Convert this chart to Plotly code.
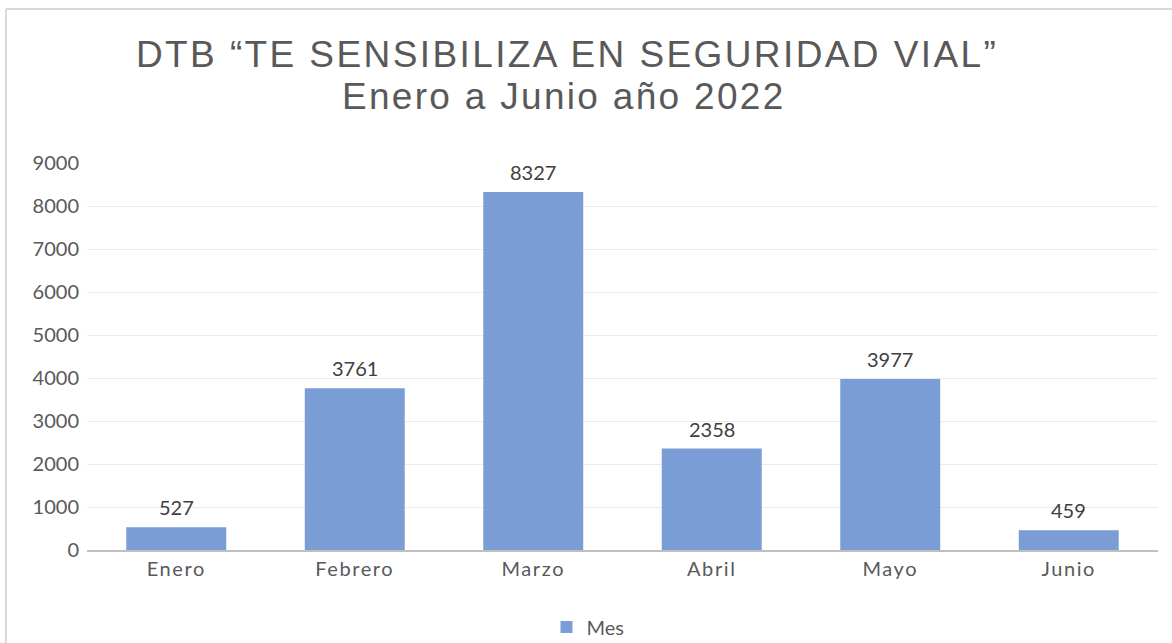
import plotly.graph_objects as go

months = ["Enero", "Febrero", "Marzo", "Abril", "Mayo", "Junio"]
values = [527, 3761, 8327, 2358, 3977, 459]
series_name = "Mes"
y_ticks = [0, 1000, 2000, 3000, 4000, 5000, 6000, 7000, 8000, 9000]
title_line1 = "DTB “TE SENSIBILIZA EN SEGURIDAD VIAL”"
title_line2 = "Enero a Junio año 2022"

L, R, T, B = 87, 14, 163, 93
W, H = 1172, 643
pw = W - L - R
ph = H - T - B

TXT = "#595959"
BAR = "#7A9DD6"


def spaced(s, px):
    return f'<span style="letter-spacing:{px}px">{s}</span>'


fig = go.Figure()
fig.add_trace(go.Bar(
    x=months, y=values, name=series_name,
    marker=dict(color=BAR, line=dict(width=0)),
    showlegend=True, hoverinfo="x+y",
))

# data labels
for m, v in zip(months, values):
    fig.add_annotation(x=m, y=v, text=str(v), showarrow=False, xanchor="center", yanchor="bottom",
                       yshift=6, font=dict(family="Lato", size=20, color="#404040"))

# title lines
fig.add_annotation(xref="paper", yref="paper", x=(567 - L) / pw, y=(H - B - 54) / ph,
                   text=spaced(title_line1, 2.4), showarrow=False, xanchor="center", yanchor="middle",
                   font=dict(family="Liberation Sans", size=37, color=TXT))
fig.add_annotation(xref="paper", yref="paper", x=(564 - L) / pw, y=(H - B - 97) / ph,
                   text=spaced(title_line2, 2.3), showarrow=False, xanchor="center", yanchor="middle",
                   font=dict(family="Liberation Sans", size=37, color=TXT))

fig.update_layout(
    width=W, height=H,
    margin=dict(l=L, r=R, t=T, b=B, autoexpand=False),
    paper_bgcolor="white", plot_bgcolor="white",
    bargap=0.44,
    legend=dict(orientation="h", x=(588 - L) / pw, xanchor="center", yref="container",
                y=1 - 627 / H, yanchor="middle",
                font=dict(family="Lato", size=20, color=TXT), itemwidth=30),
    xaxis=dict(showgrid=False, showline=True, linecolor="#BFBFBF", linewidth=2, automargin=False,
               ticks="", tickvals=months, ticktext=[spaced(m, 1.6) for m in months],
               tickfont=dict(family="Lato", size=20, color=TXT)),
    yaxis=dict(range=[0, 9000], tickvals=y_ticks, showgrid=True, gridcolor="#EBEBEB", gridwidth=1,
               zeroline=False, showline=False, ticks="", automargin=False, ticklabelstandoff=7,
               tickfont=dict(family="Lato", size=20, color=TXT)),
)

# outer chart border (left and top edges visible)
x_left = (6 - L) / pw
y_top = (H - B - 9) / ph
fig.add_shape(type="line", xref="paper", yref="paper", x0=x_left, x1=1.2, y0=y_top, y1=y_top,
              line=dict(color="#D9D9D9", width=2))
fig.add_shape(type="line", xref="paper", yref="paper", x0=x_left, x1=x_left, y0=y_top, y1=-0.5,
              line=dict(color="#D9D9D9", width=2))

fig.write_html("out.html", config={"displayModeBar": False},
               post_script="document.body.style.margin='0';")
